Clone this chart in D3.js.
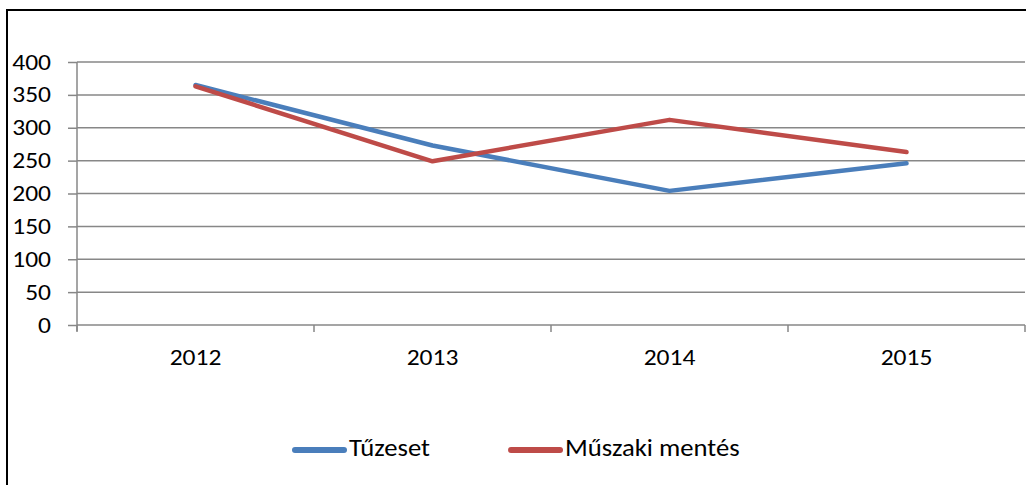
<!DOCTYPE html>
<html>
<head>
<meta charset="utf-8">
<script src="https://cdn.jsdelivr.net/npm/d3@7"></script>
<style>
  body { margin: 0; background: #fff; }
  svg { display: block; font-family: Carlito, Calibri, Lato, sans-serif; }
</style>
</head>
<body>
<svg id="chart" width="1026" height="485"></svg>
<script>
var years = ["2012", "2013", "2014", "2015"];
var tuzeset = [365, 273, 204, 246];
var muszaki = [363, 249, 312, 263];
var seriesNames = ["Tűzeset", "Műszaki mentés"];
var yTicks = [0, 50, 100, 150, 200, 250, 300, 350, 400];

var colors = ["#4a7ebb", "#be4b48"];
var grey = "#878787";
var stretch = 1.16; // picture text is a bit wide
var svg = d3.select("#chart");

// outer frame (cropped at right/bottom)
svg.append("path")
    .attr("d", "M7,485V10H1026")
    .attr("fill", "none")
    .attr("stroke", "#000")
    .attr("stroke-width", 2);

var margin = {left: 77, top: 62, right: 1, bottom: 160},
    width = 1026 - margin.left - margin.right,
    height = 485 - margin.top - margin.bottom;

var g = svg.append("g").attr("transform", "translate(" + margin.left + "," + margin.top + ")");

var x = d3.scaleBand().domain(years).range([0, width]);
var y = d3.scaleLinear().domain([0, 400]).range([height, 0]);

// gridlines
g.append("g")
  .selectAll("line")
  .data(yTicks)
  .enter().append("line")
    .attr("x1", 0)
    .attr("x2", width)
    .attr("y1", function(d) { return y(d); })
    .attr("y2", function(d) { return y(d); })
    .attr("stroke", grey)
    .attr("stroke-width", 1.5);

// y axis
var yAxis = g.append("g")
    .call(d3.axisLeft(y).tickValues(yTicks).tickSize(9));
yAxis.select(".domain").attr("stroke", grey).attr("stroke-width", 1.5)
    .attr("d", "M0,0V" + (height + 6));
yAxis.selectAll(".tick line").attr("stroke", grey).attr("stroke-width", 1.5);
yAxis.selectAll(".tick text")
    .attr("font-size", 22)
    .attr("font-family", "Carlito, Calibri, Lato, sans-serif")
    .attr("fill", "#000")
    .attr("x", -26 / stretch)
    .attr("transform", "scale(" + stretch + ",1)");

// x axis labels
var xAxis = g.append("g")
    .attr("transform", "translate(0," + height + ")")
    .call(d3.axisBottom(x).tickSize(0));
xAxis.select(".domain").remove();
xAxis.selectAll(".tick text")
    .attr("font-size", 22)
    .attr("font-family", "Carlito, Calibri, Lato, sans-serif")
    .attr("fill", "#000")
    .attr("y", 40)
    .attr("dy", null)
    .attr("transform", "scale(" + stretch + ",1)");

// category divider ticks
g.append("g")
  .selectAll("line")
  .data(d3.range(years.length + 1))
  .enter().append("line")
    .attr("x1", function(i) { return i * x.step(); })
    .attr("x2", function(i) { return i * x.step(); })
    .attr("y1", height)
    .attr("y2", height + 7)
    .attr("stroke", grey)
    .attr("stroke-width", 1.5);

// series lines
var line = d3.line()
    .x(function(d, i) { return x(years[i]) + x.bandwidth() / 2; })
    .y(function(d) { return y(d); });

[tuzeset, muszaki].forEach(function(s, i) {
  g.append("path")
      .datum(s)
      .attr("d", line)
      .attr("fill", "none")
      .attr("stroke", colors[i])
      .attr("stroke-width", 4.5)
      .attr("stroke-linecap", "round")
      .attr("stroke-linejoin", "round");
});

// legend
var legendX = [292, 508];
var legendStretch = 1.11;
var legend = svg.append("g")
  .selectAll("g")
  .data(seriesNames)
  .enter().append("g")
    .attr("transform", function(d, i) { return "translate(" + legendX[i] + ",450)"; });

legend.append("line")
    .attr("x1", 3).attr("x2", 52)
    .attr("stroke", function(d, i) { return colors[i]; })
    .attr("stroke-width", 6)
    .attr("stroke-linecap", "round");

legend.append("text")
    .attr("x", 57 / legendStretch)
    .attr("y", 6)
    .attr("transform", "scale(" + legendStretch + ",1)")
    .attr("font-size", 24)
    .attr("fill", "#000")
    .text(function(d) { return d; });
</script>
</body>
</html>
